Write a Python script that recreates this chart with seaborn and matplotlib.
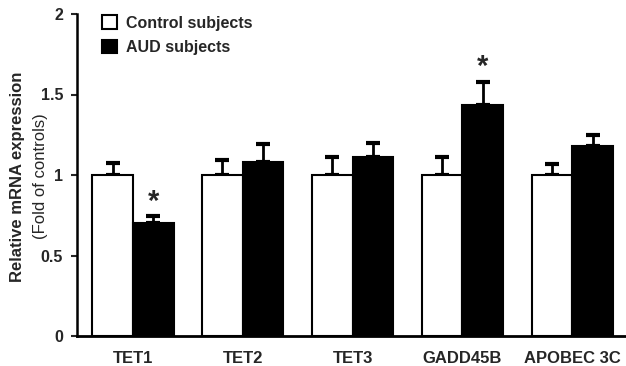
import matplotlib
matplotlib.use("Agg")
import matplotlib.pyplot as plt
import seaborn as sns
import pandas as pd
import numpy as np
from matplotlib.patches import Patch

genes = ["TET1", "TET2", "TET3", "GADD45B", "APOBEC 3C"]
groups = ["Control subjects", "AUD subjects"]
control_mean = [1.0, 1.0, 1.0, 1.0, 1.0]
control_err = [0.075, 0.093, 0.11, 0.11, 0.07]
aud_mean = [0.70, 1.08, 1.11, 1.435, 1.18]
aud_err = [0.045, 0.11, 0.09, 0.145, 0.07]
star_genes = ["TET1", "GADD45B"]
y_ticks = [0, 0.5, 1, 1.5, 2]
y_tick_labels = ["0", "0.5", "1", "1.5", "2"]

sns.set_style("white")
plt.rcParams["font.family"] = ["Liberation Sans", "DejaVu Sans"]

df = pd.DataFrame({
    "gene": genes * 2,
    "group": [groups[0]] * len(genes) + [groups[1]] * len(genes),
    "value": control_mean + aud_mean,
    "err": control_err + aud_err,
})

fig = plt.figure(figsize=(6.26, 3.66), dpi=100)
ax = fig.add_axes([77 / 626, 1 - 336 / 366, 1 - 77 / 626, (336 - 14) / 366])

sns.barplot(data=df, x="gene", y="value", hue="group", order=genes,
            hue_order=groups, palette=["white", "black"], width=0.74,
            edgecolor="black", linewidth=1.5, errorbar=None, ax=ax,
            legend=False, zorder=3)

# error bars (upward only) placed on the bars seaborn drew
bar_patches = [p for p in ax.patches if p.get_height() > 0]
for p, (_, row) in zip(bar_patches, df.iterrows()):
    cx = p.get_x() + p.get_width() / 2
    ax.errorbar(cx, row["value"], yerr=[[0], [row["err"]]], fmt="none",
                ecolor="black", elinewidth=2, capsize=5, capthick=3, zorder=2)
    if row["group"] == groups[1] and row["gene"] in star_genes:
        ax.text(cx, row["value"] + row["err"] + 0.09, "*", ha="center",
                va="center", fontsize=21, fontweight="bold")

ax.set_ylim(0, 2)
ax.set_xlim(-0.51, 4.49)
ax.set_yticks(y_ticks)
ax.set_yticklabels(y_tick_labels, fontsize=11.5, fontweight="bold")
for lab in ax.get_xticklabels():
    lab.set_fontweight("bold")
    lab.set_fontsize(12)
ax.tick_params(axis="x", length=0, pad=10.5)
ax.tick_params(axis="y", direction="out", length=4, width=1.5, pad=6, left=True)
ax.set_xlabel("")
ax.set_ylabel("")
for s in ["top", "right"]:
    ax.spines[s].set_visible(False)
ax.spines["left"].set_linewidth(1.8)
ax.spines["bottom"].set_linewidth(2)
ax.spines["left"].set_color("black")
ax.spines["bottom"].set_color("black")

fig.text(18 / 626, 1 - 177 / 366, "Relative mRNA expression", rotation=90,
         ha="center", va="center", fontsize=12, fontweight="bold")
fig.text(40 / 626, 1 - 176 / 366, "(Fold of controls)", rotation=90,
         ha="center", va="center", fontsize=12)

handles = [Patch(facecolor="white", edgecolor="black", linewidth=1.5),
           Patch(facecolor="black", edgecolor="black", linewidth=1.5)]
leg = ax.legend(handles, groups, loc="upper left", bbox_to_anchor=(0.02, 1.04),
                frameon=False, handlelength=0.9, handleheight=0.9,
                handletextpad=0.6, labelspacing=0.6, prop={"weight": "bold", "size": 11.5})

fig.savefig("out.png", dpi=100)
